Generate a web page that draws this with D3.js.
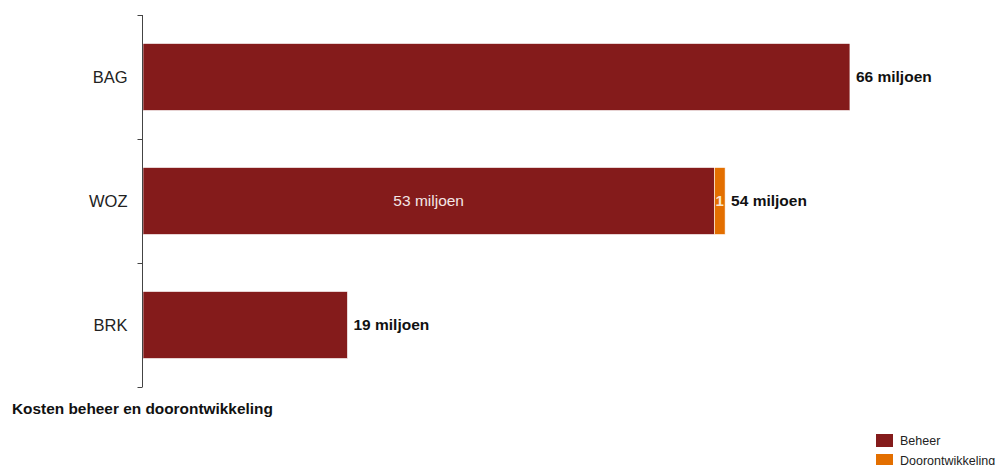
<!DOCTYPE html>
<html>
<head>
<meta charset="utf-8">
<script src="https://cdn.jsdelivr.net/npm/d3@7"></script>
<style>
  html, body { margin: 0; padding: 0; background: #fff; }
  svg { display: block; font-family: "Liberation Sans", Arial, sans-serif; }
</style>
</head>
<body>
<svg id="chart" width="999" height="465"></svg>
<script>
// Registers and their yearly costs (millions of euros)
const categories = ["BAG", "WOZ", "BRK"];
const beheer = [65.7, 53.1, 19.0];
const doorontwikkeling = [0, 1.0, 0];
const seriesNames = ["Beheer", "Doorontwikkeling"];
const seriesColors = ["#841b1b", "#e36f00"];
const axisTitle = "Kosten beheer en doorontwikkeling";

const svg = d3.select("#chart");

const x = d3.scaleLinear().domain([0, 70]).range([143, 143 + 70 * 10.76]);
const yTop = 15, yBottom = 387;
const y = d3.scaleBand()
  .domain(categories)
  .range([yTop, yBottom])
  .paddingInner(0.46)
  .paddingOuter(0.23);

const rows = categories.map((c, i) => ({
  cat: c,
  beheer: beheer[i],
  door: doorontwikkeling[i],
  total: beheer[i] + doorontwikkeling[i]
}));

// Stacked bars
const stack = d3.stack().keys(["beheer", "door"])(rows);
stack.forEach((layer, li) => {
  svg.append("g")
    .selectAll("rect")
    .data(layer.filter(d => d[1] > d[0]))
    .join("rect")
    .attr("x", d => x(d[0]))
    .attr("y", d => y(d.data.cat))
    .attr("width", d => x(d[1]) - x(d[0]))
    .attr("height", y.bandwidth())
    .attr("fill", seriesColors[li])
    .attr("stroke", "#fff")
    .attr("stroke-width", 0.6);
});

// Segment labels inside stacked bars
const fmt = v => String(Math.round(v));
rows.filter(d => d.door > 0).forEach(d => {
  svg.append("text")
    .attr("x", (x(0) + x(d.beheer)) / 2)
    .attr("y", y(d.cat) + y.bandwidth() / 2)
    .attr("dy", "0.35em")
    .attr("text-anchor", "middle")
    .attr("fill", "#f3e6e6")
    .style("font-size", "15.5px")
    .text(fmt(d.beheer) + " miljoen");
  svg.append("text")
    .attr("x", (x(d.beheer) + x(d.total)) / 2)
    .attr("y", y(d.cat) + y.bandwidth() / 2)
    .attr("dy", "0.35em")
    .attr("text-anchor", "middle")
    .attr("fill", "#f6e6d6")
    .style("font-size", "15px")
    .style("font-weight", "bold")
    .text(fmt(d.door));
});

// Total labels
svg.append("g")
  .selectAll("text")
  .data(rows)
  .join("text")
  .attr("x", d => x(d.total) + 6)
  .attr("y", d => y(d.cat) + y.bandwidth() / 2)
  .attr("dy", "0.35em")
  .attr("fill", "#111")
  .style("font-size", "15.5px")
  .style("font-weight", "bold")
  .text(d => fmt(d.total) + " miljoen");

// Vertical axis with ticks on category boundaries
const axisX = 142.5;
const axisG = svg.append("g");
axisG.append("line")
  .attr("x1", axisX).attr("x2", axisX)
  .attr("y1", yTop).attr("y2", yBottom)
  .attr("stroke", "#444").attr("stroke-width", 1);
const step = y.step();
const boundaries = d3.range(categories.length + 1).map(i => yTop + i * step);
axisG.selectAll("line.tick")
  .data(boundaries)
  .join("line")
  .attr("class", "tick")
  .attr("x1", axisX - 5).attr("x2", axisX)
  .attr("y1", d => Math.round(d) + 0.5).attr("y2", d => Math.round(d) + 0.5)
  .attr("stroke", "#444");
axisG.selectAll("text")
  .data(categories)
  .join("text")
  .attr("x", axisX - 15)
  .attr("y", d => y(d) + y.bandwidth() / 2)
  .attr("dy", "0.35em")
  .attr("text-anchor", "end")
  .attr("fill", "#222")
  .style("font-size", "16.5px")
  .text(d => d);

// Axis title
svg.append("text")
  .attr("x", 12)
  .attr("y", 413.5)
  .attr("fill", "#111")
  .style("font-size", "15.4px")
  .style("font-weight", "bold")
  .text(axisTitle);

// Legend
const legend = svg.append("g").attr("transform", "translate(876,434)");
seriesNames.forEach((name, i) => {
  const g = legend.append("g").attr("transform", `translate(0,${i * 20})`);
  g.append("rect")
    .attr("width", 17).attr("height", 13)
    .attr("fill", seriesColors[i]);
  g.append("text")
    .attr("x", 24).attr("y", 6.5)
    .attr("dy", "0.35em")
    .attr("fill", "#222")
    .style("font-size", "12.5px")
    .text(name);
});
</script>
</body>
</html>
